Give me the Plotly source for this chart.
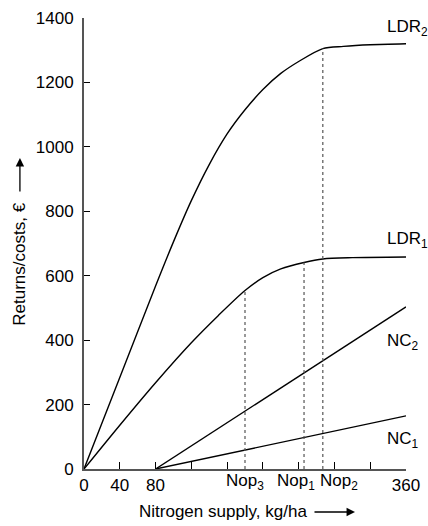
import plotly.graph_objects as go

# Nitrogen supply (kg/ha) and returns/costs (EUR) for each curve
ldr2_x = [0, 40, 80, 100, 120, 140, 160, 180, 200, 220, 240, 267, 290, 320, 360]
ldr2_y = [0, 284, 568, 705, 833, 945, 1040, 1115, 1178, 1228, 1265, 1305, 1312, 1317, 1320]

ldr1_x = [0, 40, 80, 120, 150, 180, 200, 220, 246, 267, 300, 360]
ldr1_y = [0, 136, 268, 392, 476, 554, 594, 621, 641, 652, 656, 658]

nc2_x = [80, 360]
nc2_y = [0, 503]

nc1_x = [80, 360]
nc1_y = [0, 165]

# Optimum nitrogen levels (Nop) and the curve value each dotted guide rises to
nop_names = ["Nop<sub>3</sub>", "Nop<sub>1</sub>", "Nop<sub>2</sub>"]
nop_x = [180, 246, 267]
nop_top = [554, 641, 1305]
nop_label_x = [180, 237, 285]

x_ticks = [0, 40, 80, 120, 160, 200, 240, 280, 320, 360]
x_ticktext = ["0", "40", "80", "", "", "", "", "", "", "360"]
y_ticks = [0, 200, 400, 600, 800, 1000, 1200, 1400]

curve_labels = ["LDR<sub>2</sub>", "LDR<sub>1</sub>", "NC<sub>2</sub>", "NC<sub>1</sub>"]
curve_label_y = [1370, 711, 394, 90]

FONT = "Liberation Sans, Arial, sans-serif"
FS = 17

fig = go.Figure()

line_style = dict(color="black", width=1.4)
fig.add_trace(go.Scatter(x=ldr2_x, y=ldr2_y, mode="lines",
                         line=dict(shape="spline", smoothing=0.8, **line_style)))
fig.add_trace(go.Scatter(x=ldr1_x, y=ldr1_y, mode="lines",
                         line=dict(shape="spline", smoothing=0.8, **line_style)))
fig.add_trace(go.Scatter(x=nc2_x, y=nc2_y, mode="lines", line=line_style))
fig.add_trace(go.Scatter(x=nc1_x, y=nc1_y, mode="lines", line=line_style))

for nx, top in zip(nop_x, nop_top):
    fig.add_trace(go.Scatter(x=[nx, nx], y=[0, top], mode="lines",
                             line=dict(color="#555555", width=1.2, dash="dot")))

annotations = []
for text, yv in zip(curve_labels, curve_label_y):
    annotations.append(dict(x=336.5, y=yv, xref="x", yref="y", text=text,
                            showarrow=False, xanchor="left", yanchor="middle",
                            font=dict(family=FONT, size=FS, color="black")))

for text, lx in zip(nop_names, nop_label_x):
    annotations.append(dict(x=lx, y=-0.028, xref="x", yref="paper", text=text,
                            showarrow=False, xanchor="center", yanchor="middle",
                            font=dict(family=FONT, size=FS, color="black")))

# Axis titles with arrows
annotations.append(dict(x=0.4317, y=-0.0953, xref="paper", yref="paper",
                        text="Nitrogen supply, kg/ha", showarrow=False,
                        xanchor="center", yanchor="middle",
                        font=dict(family=FONT, size=FS, color="black")))
annotations.append(dict(x=0.8416, y=-0.0953, xref="paper", yref="paper",
                        text="", showarrow=True, ax=-42, ay=0,
                        arrowhead=2, arrowsize=1.3, arrowwidth=1.3, arrowcolor="black"))
annotations.append(dict(x=-0.199, y=0.455, xref="paper", yref="paper",
                        text="Returns/costs, €", showarrow=False, textangle=-90,
                        xanchor="center", yanchor="middle",
                        font=dict(family=FONT, size=FS, color="black")))
annotations.append(dict(x=-0.199, y=0.6896, xref="paper", yref="paper",
                        text="", showarrow=True, ax=0, ay=35,
                        arrowhead=2, arrowsize=1.3, arrowwidth=1.3, arrowcolor="black"))

fig.update_layout(
    width=428, height=526,
    margin=dict(l=84, r=22, t=18, b=57),
    paper_bgcolor="white", plot_bgcolor="white",
    showlegend=False,
    font=dict(family=FONT, size=FS, color="black"),
    annotations=annotations,
    xaxis=dict(range=[0, 360], tickvals=x_ticks, ticktext=x_ticktext,
               ticks="inside", ticklen=7, tickwidth=1.3, tickcolor="black",
               showline=True, linecolor="#555555", linewidth=2,
               showgrid=False, zeroline=False, ticklabelstandoff=0,
               automargin=False),
    yaxis=dict(range=[0, 1400], tickvals=y_ticks,
               ticks="inside", ticklen=6, tickwidth=1.3, tickcolor="black",
               showline=True, linecolor="#555555", linewidth=2,
               showgrid=False, zeroline=False, ticklabelstandoff=5,
               automargin=False),
)

fig.write_html("out.html")
